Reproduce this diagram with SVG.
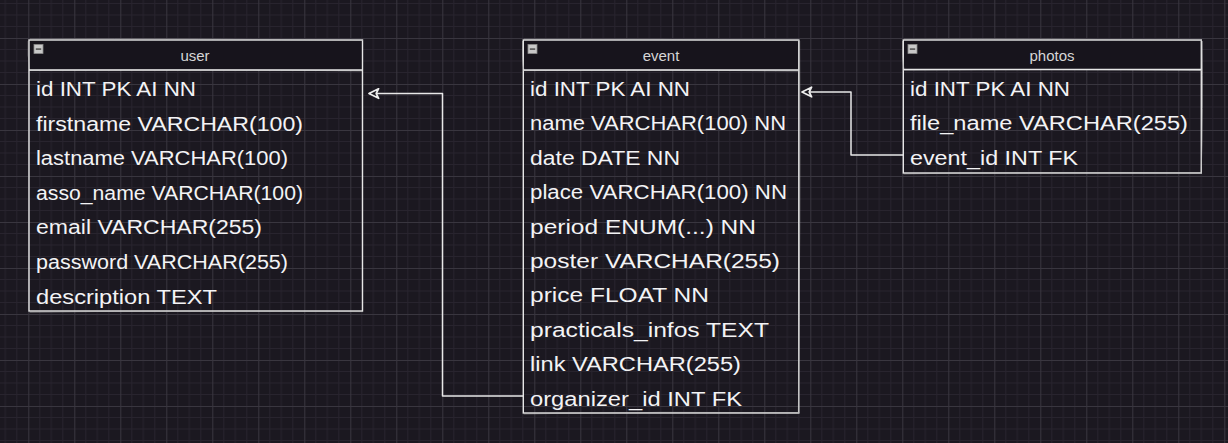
<svg xmlns="http://www.w3.org/2000/svg" width="1228" height="443" viewBox="0 0 1228 443">
  <defs>
    <pattern id="grid" width="46" height="46" patternUnits="userSpaceOnUse" x="28.3" y="38">
      <path d="M11.5,0V46M23,0V46M34.5,0V46M0,11.5H46M0,23H46M0,34.5H46" stroke="#28242e" stroke-width="1" fill="none"/>
      <path d="M0.5,0V46M0,0.5H46" stroke="#39363f" stroke-width="1" fill="none"/>
    </pattern>
    <marker id="openArrow" markerWidth="12" markerHeight="12" refX="9" refY="5" orient="auto" markerUnits="userSpaceOnUse" viewBox="0 0 10 10">
      <path d="M1,1 L9,5 L1,9 L3,5 Z" fill="#1b1820" stroke="#eeeeee" stroke-width="1.4" stroke-linejoin="round"/>
    </marker>
    <style>
      .frame { fill: none; stroke: #e6e6e6; stroke-width: 1.4; }
      .frame2 { fill: none; stroke: #bdbdbd; stroke-width: 0.9; opacity: 0.8; }
      .head { fill: #17141c; }
      .title { font-family: "Liberation Sans", Arial, sans-serif; font-size: 15px; fill: #d6d6d6; text-anchor: middle; }
      .row { font-family: "Liberation Sans", Arial, sans-serif; font-size: 20px; fill: #f3f3f5; }
      .minus-box { fill: #c8c8c8; stroke: #8a8a8a; stroke-width: 0.8; }
      .minus-bar { fill: #555555; }
      .conn { fill: none; stroke: #e8e8e8; stroke-width: 1.5; stroke-linejoin: round; }
    </style>
  </defs>

  <rect x="0" y="0" width="1228" height="443" fill="#1b1820"/>
  <rect x="0" y="0" width="1228" height="443" fill="url(#grid)"/>

  <g id="connectors">
    <path class="conn" d="M523,396 H442.5 V93.5 H369" marker-end="url(#openArrow)"/>
    <path class="conn" d="M903,155 H851 V92 H802" marker-end="url(#openArrow)"/>
  </g>

  <g id="user">
    <rect class="head" x="29" y="40" width="333.5" height="30"/>
    <rect class="frame" x="29" y="40" width="333.5" height="271"/>
    <path class="frame2" d="M30,39.2 Q200,38.6 363,40.4 M28.3,41 Q27.6,55 29.6,70 M29,70.4 Q200,69.4 362,70.8 M29.6,312 Q200,310.4 363,311.6"/>
    <line class="frame" x1="29" y1="70" x2="362.5" y2="70"/>
    <rect class="minus-box" x="34" y="44.5" width="9" height="9"/>
    <rect class="minus-bar" x="35.8" y="48.3" width="5.4" height="1.6"/>
    <text class="title" x="195" y="61">user</text>
    <text class="row" x="36" y="96" textLength="160" lengthAdjust="spacingAndGlyphs">id INT PK AI NN</text>
    <text class="row" x="36" y="130.6" textLength="267" lengthAdjust="spacingAndGlyphs">firstname VARCHAR(100)</text>
    <text class="row" x="36" y="165.2" textLength="252" lengthAdjust="spacingAndGlyphs">lastname VARCHAR(100)</text>
    <text class="row" x="36" y="199.8" textLength="267" lengthAdjust="spacingAndGlyphs">asso_name VARCHAR(100)</text>
    <text class="row" x="36" y="234.4" textLength="226" lengthAdjust="spacingAndGlyphs">email VARCHAR(255)</text>
    <text class="row" x="36" y="269" textLength="252" lengthAdjust="spacingAndGlyphs">password VARCHAR(255)</text>
    <text class="row" x="36" y="303.6" textLength="181" lengthAdjust="spacingAndGlyphs">description TEXT</text>
  </g>

  <g id="event">
    <rect class="head" x="523.3" y="40" width="275.5" height="30"/>
    <rect class="frame" x="523.3" y="40" width="275.5" height="373"/>
    <path class="frame2" d="M524,39.3 Q660,38.8 799.6,40.6 M522.6,41 Q522.2,60 523.8,70 M523,70.6 Q660,69.4 799,70.9 M523.6,413.8 Q660,411.6 799.4,412.6 M799.6,41 Q800.4,220 798.4,413"/>
    <line class="frame" x1="523.3" y1="70" x2="798.8" y2="70"/>
    <rect class="minus-box" x="528" y="44.5" width="9" height="9"/>
    <rect class="minus-bar" x="529.8" y="48.3" width="5.4" height="1.6"/>
    <text class="title" x="661" y="61">event</text>
    <text class="row" x="530" y="96" textLength="160" lengthAdjust="spacingAndGlyphs">id INT PK AI NN</text>
    <text class="row" x="530" y="130.4" textLength="256" lengthAdjust="spacingAndGlyphs">name VARCHAR(100) NN</text>
    <text class="row" x="530" y="164.8" textLength="150" lengthAdjust="spacingAndGlyphs">date DATE NN</text>
    <text class="row" x="530" y="199.2" textLength="257" lengthAdjust="spacingAndGlyphs">place VARCHAR(100) NN</text>
    <text class="row" x="530" y="233.6" textLength="226" lengthAdjust="spacingAndGlyphs">period ENUM(...) NN</text>
    <text class="row" x="530" y="268" textLength="250" lengthAdjust="spacingAndGlyphs">poster VARCHAR(255)</text>
    <text class="row" x="530" y="302.4" textLength="179" lengthAdjust="spacingAndGlyphs">price FLOAT NN</text>
    <text class="row" x="530" y="336.8" textLength="239" lengthAdjust="spacingAndGlyphs">practicals_infos TEXT</text>
    <text class="row" x="530" y="371.2" textLength="211" lengthAdjust="spacingAndGlyphs">link VARCHAR(255)</text>
    <text class="row" x="530" y="405.6" textLength="212" lengthAdjust="spacingAndGlyphs">organizer_id INT FK</text>
  </g>

  <g id="photos">
    <rect class="head" x="903.3" y="40" width="298" height="29.5"/>
    <rect class="frame" x="903.3" y="40" width="298" height="133"/>
    <path class="frame2" d="M904,39.3 Q1050,38.6 1202,40.4 M902.6,41 Q902,56 903.8,69.5 M903,70 Q1050,68.8 1201.6,70.4 M903.6,173.8 Q1050,171.8 1201.8,172.8 M1202.2,41 Q1203,110 1201.2,173"/>
    <line class="frame" x1="903.3" y1="69.5" x2="1201.3" y2="69.5"/>
    <rect class="minus-box" x="908" y="44.5" width="9" height="9"/>
    <rect class="minus-bar" x="909.8" y="48.3" width="5.4" height="1.6"/>
    <text class="title" x="1052" y="61">photos</text>
    <text class="row" x="910" y="96" textLength="160" lengthAdjust="spacingAndGlyphs">id INT PK AI NN</text>
    <text class="row" x="910" y="130.4" textLength="278" lengthAdjust="spacingAndGlyphs">file_name VARCHAR(255)</text>
    <text class="row" x="910" y="164.8" textLength="168" lengthAdjust="spacingAndGlyphs">event_id INT FK</text>
  </g>
</svg>
